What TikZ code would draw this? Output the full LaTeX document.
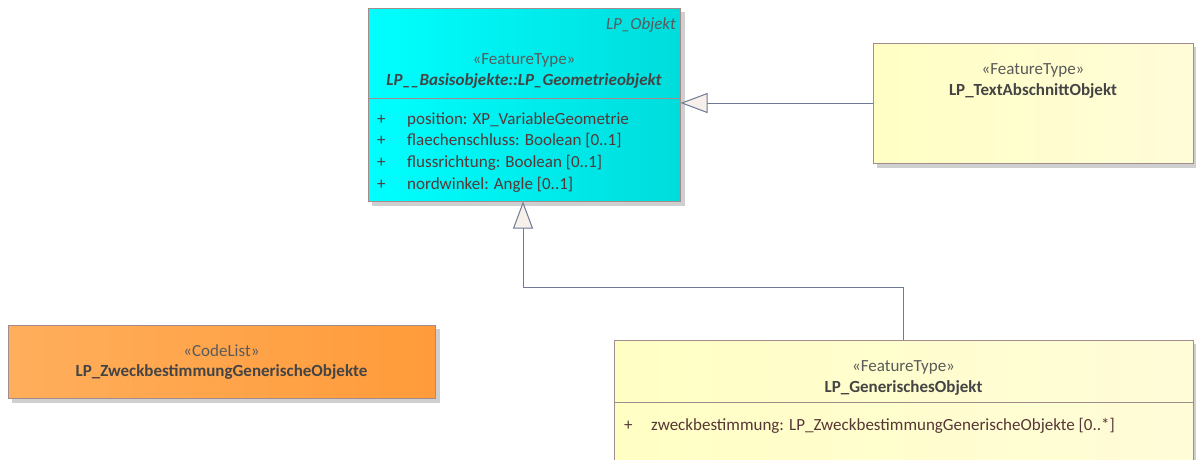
\documentclass[tikz,border=0pt]{standalone}
\usepackage{fontspec}
\setmainfont{Carlito}
\usetikzlibrary{arrows.meta}
\definecolor{bordc}{HTML}{A58C8C}
\definecolor{shadc}{HTML}{CFCFCF}
\definecolor{txtc}{HTML}{444444}
\definecolor{sterc}{HTML}{5A5A5A}
\definecolor{attc}{HTML}{573636}
\definecolor{linec}{HTML}{6E7A96}
\definecolor{trifill}{HTML}{F6EFEA}
\definecolor{cyanL}{HTML}{00FFFF}
\definecolor{cyanR}{HTML}{00DCDC}
\definecolor{yelL}{HTML}{FFFFC4}
\definecolor{yelR}{HTML}{FFFCD8}
\definecolor{orL}{HTML}{FFAE5C}
\definecolor{orR}{HTML}{FF9B3A}
\newcommand{\fsz}{\fontsize{17}{20}\selectfont}
\tikzset{
  cls/.style={draw=bordc, line width=1pt, rectangle, inner sep=0pt},
  shad/.style={fill=shadc, draw=none},
  ster/.style={font=\fsz, text=sterc, inner sep=0pt},
  cname/.style={font=\fsz\bfseries, text=txtc, inner sep=0pt},
  attr/.style={font=\fsz, text=attc, inner sep=0pt, anchor=west},
  conn/.style={draw=linec, line width=1pt},
  gen/.style={conn, -{Triangle[open, length=27pt, width=20pt, fill=trifill]}}
}
\begin{document}
\begin{tikzpicture}[x=1pt, y=-1pt]
\clip (0,0) rectangle (1196,459);
\fill[white] (0,0) rectangle (1196,459);
% shadows
\fill[shad] (372,12) rectangle (685,206);
\fill[shad] (877,47) rectangle (1198,168);
\fill[shad] (12,329) rectangle (440,403);
\fill[shad] (618,344) rectangle (1198,470);
% Geometrieobjekt
\node[cls, left color=cyanL, right color=cyanR, minimum width=312pt, minimum height=193pt] (geo) at (524,104.5) {};
\draw[bordc, line width=1pt] (368,98) -- (680,98);
\node[ster, anchor=east, font=\fsz\itshape] (geosup) at (676,25) {LP\_Objekt};
\node[ster] (geost) at (524,60) {«FeatureType»};
\node[cname, font=\fsz\bfseries\itshape] (geon) at (524,81) {LP\_\_Basisobjekte::LP\_Geometrieobjekt};
\node[attr] (gp1) at (377,120) {+};
\node[attr] (ga1) at (407,120) {position: XP\_VariableGeometrie};
\node[attr] (gp2) at (377,141) {+};
\node[attr] (ga2) at (407,141) {flaechenschluss: Boolean [0..1]};
\node[attr] (gp3) at (377,163) {+};
\node[attr] (ga3) at (407,163) {flussrichtung: Boolean [0..1]};
\node[attr] (gp4) at (377,185) {+};
\node[attr] (ga4) at (407,185) {nordwinkel: Angle [0..1]};
% TextAbschnittObjekt
\node[cls, left color=yelL, right color=yelR, minimum width=320pt, minimum height=120pt] (txt) at (1033,103) {};
\node[ster] (txtst) at (1033,70) {«FeatureType»};
\node[cname] (txtn) at (1033,91) {LP\_TextAbschnittObjekt};
% CodeList
\node[cls, left color=orL, right color=orR, minimum width=427pt, minimum height=73pt] (code) at (221.5,361.5) {};
\node[ster] (codest) at (221.5,351) {«CodeList»};
\node[cname] (coden) at (221.5,372) {LP\_ZweckbestimmungGenerischeObjekte};
% GenerischesObjekt
\node[cls, left color=yelL, right color=yelR, minimum width=579pt, minimum height=130pt] (gen) at (903.5,405) {};
\draw[bordc, line width=1pt] (614,402) -- (1193,402);
\node[ster] (genst) at (903.5,367) {«FeatureType»};
\node[cname] (genn) at (903.5,388) {LP\_GenerischesObjekt};
\node[attr] (gnp1) at (624,426) {+};
\node[attr] (gna1) at (651,426) {zweckbestimmung: LP\_ZweckbestimmungGenerischeObjekte [0..*]};
% connectors
\coordinate (g1) at (903,287);
\coordinate (g2) at (523,287);
\draw[gen] (txt.west |- 0,103) -- (geo.east |- 0,103);
\draw[gen] (gen.north -| g1) -- (g1) -- (g2) -- (g2 |- geo.south);
\end{tikzpicture}
\end{document}
